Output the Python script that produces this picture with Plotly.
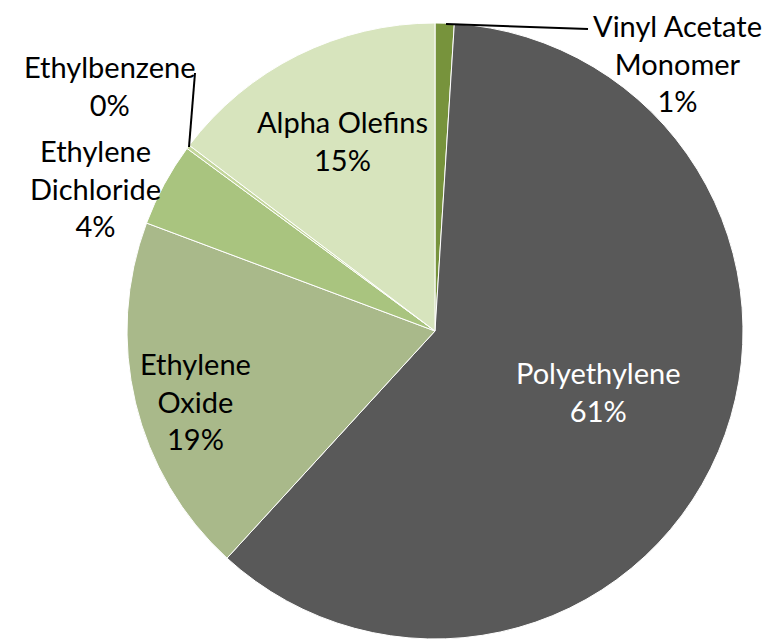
import plotly.graph_objects as go

# ethylene end uses, share of demand (%)
products = ["Vinyl Acetate Monomer", "Polyethylene", "Ethylene Oxide",
            "Ethylene Dichloride", "Ethylbenzene", "Alpha Olefins"]
label_lines = ["Vinyl Acetate<br>Monomer", "Polyethylene", "Ethylene<br>Oxide",
               "Ethylene<br>Dichloride", "Ethylbenzene", "Alpha Olefins"]
shares = [1.0, 60.8, 18.9, 4.4, 0.2, 14.7]

colors = ["#77933C", "#595959", "#A9B98A", "#A9C47F", "#C3D69B", "#D7E4BD"]
text_colors = ["black", "white", "black", "black", "black", "black"]

W, H = 775, 640
OFF = 8  # browser body margin shifts the figure by 8px


def px(x, y):
    # screen pixel -> paper coords
    return (x - OFF) / W, 1 - (y - OFF) / H


fig = go.Figure(go.Pie(
    labels=products,
    values=shares,
    sort=False,
    direction="clockwise",
    rotation=0,
    marker=dict(colors=colors, line=dict(color="white", width=1)),
    textinfo="none",
    hoverinfo="label+percent",
    showlegend=False,
    domain=dict(x=[px(127, 0)[0], px(743, 0)[0]],
                y=[px(0, 639)[1], px(0, 23)[1]]),
))

# label block centres in pixels
label_pos = [(677, 63), (598, 391), (195, 401), (95, 188), (110, 85), (342, 140)]
for name, val, pos, col in zip(label_lines, shares, label_pos, text_colors):
    ax, ay = px(*pos)
    fig.add_annotation(
        x=ax, y=ay, xref="paper", yref="paper",
        text=f"{name}<br>{round(val):.0f}%", showarrow=False,
        xanchor="center", yanchor="middle", align="center",
        font=dict(size=29, color=col),
    )

# leader lines for the two thin slices
for p0, p1 in [((446, 24), (588, 29)), ((189, 147), (195, 73))]:
    x0, y0 = px(*p0)
    x1, y1 = px(*p1)
    fig.add_shape(type="line", xref="paper", yref="paper",
                  x0=x0, y0=y0, x1=x1, y1=y1,
                  line=dict(color="black", width=2))

fig.update_layout(
    width=W, height=H,
    margin=dict(l=0, r=0, t=0, b=0),
    paper_bgcolor="white",
    font=dict(family="Lato, Open Sans, sans-serif"),
)

fig.write_html("out.html")
